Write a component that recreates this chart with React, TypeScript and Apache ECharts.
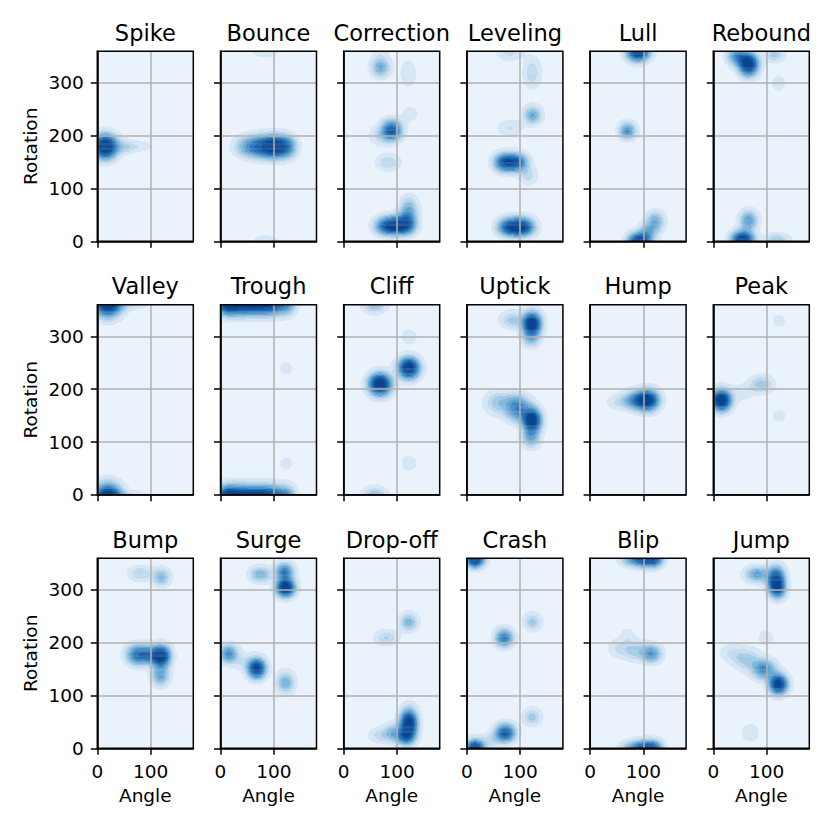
import React, { useEffect, useRef } from "react";
import * as echarts from "echarts";

// ---------- data ----------
const TITLES = [
  "Spike", "Bounce", "Correction", "Leveling", "Lull", "Rebound",
  "Valley", "Trough", "Cliff", "Uptick", "Hump", "Peak",
  "Bump", "Surge", "Drop-off", "Crash", "Blip", "Jump",
];
const X_TICKS = [0, 100];
const Y_TICKS = [0, 100, 200, 300];
const X_RANGE = [0, 180];
const Y_RANGE = [0, 360];
const X_NAME = "Angle";
const Y_NAME = "Rotation";

// density level thresholds (fraction of panel maximum) and Blues fill colours
const LEVELS = [0.04, 0.1, 0.16, 0.23, 0.31, 0.4, 0.5, 0.62, 0.76];
const COLORS = [
  "#eaf2fb", "#d6e6f4", "#c1d9ee", "#a3cae4", "#80b7db",
  "#5fa3d1", "#4089c4", "#2670b4", "#1259a2", "#084590",
];
const BW_ADJUST = 1.25;

// density clusters per panel: [angle, rotation, weight, spreadAngle, spreadRotation]
const spike = [[15, 180, 1, 11.5, 12], [50, 180, 0.15, 12, 7], [80, 180, 0.07, 15, 6]];
const bounce = [[100, 180, 1, 13, 11], [70, 180, 0.55, 13, 11], [125, 180, 0.45, 10, 11], [45, 180, 0.25, 12, 10], [85, 362, 0.08, 18, 10], [85, -2, 0.08, 18, 10]];
const correction = [[69, 330, 0.45, 9.5, 9.5], [69, 360, 0.1, 9, 8], [121, 318, 0.1, 10, 18], [90, 211, 0.95, 10, 10], [125, 242, 0.09, 10, 10], [68, 200, 0.15, 12, 10], [83, 150, 0.22, 12, 8.5], [80, 30, 0.75, 12, 9], [100, 30, 0.8, 12, 9], [118, 34, 0.75, 10, 10], [122, 62, 0.42, 9, 12]];
const leveling = [[80, 362, 0.16, 13, 10], [122, 320, 0.17, 9, 16], [123, 240, 0.38, 9, 9], [80, 215, 0.12, 13, 9], [72, 150, 0.85, 11, 9], [96, 150, 0.6, 10, 9], [115, 125, 0.15, 9, 10], [80, 28, 0.75, 12, 9], [104, 28, 0.85, 12, 9]];
const lull = [[90, 362, 1, 11, 10], [70, 210, 0.42, 8.5, 8.5], [92, -2, 1, 11, 9], [122, 38, 0.32, 9, 10], [108, 18, 0.25, 9, 9]];
const rebound = [[66, 336, 1, 9.5, 11], [45, 352, 0.45, 10, 9], [115, 355, 0.2, 10, 8], [122, 300, 0.1, 7, 8], [55, 2, 1, 11, 9], [66, 40, 0.4, 9, 10], [120, 0, 0.25, 12, 8]];
const valley = [[20, 365, 1, 13, 13.5], [65, 362, 0.1, 18, 6], [20, -5, 1, 13, 13.5], [65, -2, 0.1, 18, 6]];
const trough = [[15, 362, 1, 11, 11], [45, 362, 0.85, 12, 11], [75, 362, 0.75, 12, 11], [100, 362, 0.6, 11, 11], [125, 362, 0.4, 9, 11], [123, 240, 0.07, 9, 9], [123, 60, 0.07, 9, 9], [15, -2, 1, 11, 11], [45, -2, 0.85, 12, 11], [75, -2, 0.75, 12, 11], [100, -2, 0.6, 11, 11], [125, -2, 0.4, 9, 11]];
const cliff = [[58, 363, 0.25, 12, 9.5], [58, -3, 0.25, 12, 9.5], [68, 210, 1, 11, 11], [122, 241, 0.95, 10.5, 10.5], [122, 300, 0.08, 9, 9], [122, 60, 0.08, 9, 9]];
const uptick = [[122, 326, 1, 9, 11], [120, 300, 0.3, 9, 10], [85, 332, 0.2, 12, 9], [122, 142, 1, 9, 12], [95, 165, 0.5, 12, 13], [60, 175, 0.22, 14, 12], [120, 108, 0.3, 9, 10]];
const hump = [[108, 180, 1, 11, 10.5], [85, 180, 0.45, 12, 9.5], [55, 176, 0.12, 14, 8]];
const peak = [[15, 180, 1, 9.5, 10.5], [90, 210, 0.2, 12, 9], [55, 195, 0.08, 12, 9], [123, 330, 0.065, 8.5, 8.5], [123, 150, 0.065, 8.5, 8.5]];
const bump = [[120, 325, 0.3, 9, 9], [80, 332, 0.18, 12, 8], [75, 178, 0.6, 11, 10], [120, 176, 1, 9, 10], [118, 140, 0.4, 9, 11], [98, 178, 0.45, 10, 9]];
const surge = [[122, 305, 1, 9, 9], [120, 335, 0.5, 9, 9], [75, 330, 0.3, 11, 8], [15, 180, 0.45, 9, 9], [68, 152, 0.85, 9, 10], [122, 125, 0.3, 9, 11], [40, 165, 0.08, 12, 10]];
const dropoff = [[122, 240, 0.3, 9, 9], [80, 210, 0.18, 12, 8], [122, 48, 1, 8.5, 14], [116, 24, 0.55, 9, 9], [92, 30, 0.3, 10, 9], [65, 25, 0.12, 11, 8]];
const crash = [[15, 362, 0.9, 9, 9], [15, -2, 0.9, 9, 9], [70, 210, 0.45, 9, 9], [123, 240, 0.17, 9, 9], [72, 30, 0.6, 10, 9], [122, 60, 0.17, 9, 9], [45, 15, 0.1, 10, 8]];
const blip = [[98, 364, 1, 12, 9], [120, 362, 0.7, 9, 9], [70, 360, 0.2, 10, 8], [115, 180, 0.45, 10, 9], [85, 185, 0.2, 12, 10], [55, 190, 0.12, 12, 10], [70, 215, 0.08, 8, 8], [98, -4, 1, 12, 9], [120, -2, 0.6, 9, 9], [70, -2, 0.2, 10, 8]];
const jump = [[118, 318, 1, 8.5, 13], [82, 330, 0.4, 12, 8], [121, 300, 0.35, 8, 9], [122, 122, 1, 9, 10], [95, 150, 0.5, 12, 10], [62, 170, 0.22, 14, 11], [98, 210, 0.1, 8, 8], [32, 182, 0.1, 12, 9], [69, 30, 0.1, 10, 10]];

const PANELS = [
  spike, bounce, correction, leveling, lull, rebound,
  valley, trough, cliff, uptick, hump, peak,
  bump, surge, dropoff, crash, blip, jump,
];

// ---------- layout ----------
const COL_LEFT = [97.3, 220.5, 343.7, 466.9, 590.1, 713.3];
const ROW_TOP = [51.3, 304.8, 558.3];
const PW = 96;
const PH = 190;
const FONT = "DejaVu Sans";

// density evaluated on a fine grid, merged into horizontal runs of equal level
function densityRuns(blobs: number[][]) {
  const dx = 1.5;
  const dy = 2;
  const nx = Math.round((X_RANGE[1] - X_RANGE[0]) / dx);
  const ny = Math.round((Y_RANGE[1] - Y_RANGE[0]) / dy);
  const dens = new Float64Array(nx * ny);
  let max = 0;
  for (let j = 0; j < ny; j++) {
    const y = Y_RANGE[0] + (j + 0.5) * dy;
    for (let i = 0; i < nx; i++) {
      const x = X_RANGE[0] + (i + 0.5) * dx;
      let s = 0;
      for (const b of blobs) {
        const ux = (x - b[0]) / (b[3] * BW_ADJUST);
        const uy = (y - b[1]) / (b[4] * BW_ADJUST);
        s += b[2] * Math.exp(-0.5 * (ux * ux + uy * uy));
      }
      dens[j * nx + i] = s;
      if (s > max) max = s;
    }
  }
  const lvl = (v: number) => {
    const f = v / max;
    let k = 0;
    while (k < LEVELS.length && f >= LEVELS[k]) k++;
    return k;
  };
  const runs: number[][] = [];
  for (let j = 0; j < ny; j++) {
    let start = 0;
    let cur = lvl(dens[j * nx]);
    for (let i = 1; i <= nx; i++) {
      const l = i < nx ? lvl(dens[j * nx + i]) : -1;
      if (l !== cur) {
        if (cur > 0) {
          runs.push([
            X_RANGE[0] + start * dx,
            X_RANGE[0] + i * dx,
            Y_RANGE[0] + j * dy,
            Y_RANGE[0] + (j + 1) * dy,
            cur,
          ]);
        }
        start = i;
        cur = l;
      }
    }
  }
  return runs;
}

function buildOption() {
  const grids: any[] = [];
  const xAxes: any[] = [];
  const yAxes: any[] = [];
  const series: any[] = [];
  const graphics: any[] = [];
  const tickFmt = (v: number) => (v % 100 === 0 ? String(v) : "");

  PANELS.forEach((blobs, k) => {
    const row = Math.floor(k / 6);
    const col = k % 6;
    const left = COL_LEFT[col];
    const top = ROW_TOP[row];
    grids.push({
      left, top, width: PW, height: PH,
      show: true, backgroundColor: COLORS[0], borderWidth: 0,
      containLabel: false,
    });
    xAxes.push({
      type: "value", gridIndex: k, min: X_RANGE[0], max: X_RANGE[1], interval: 100, z: 5,
      axisLine: { show: true, onZero: false, lineStyle: { color: "#000", width: 1.5 } },
      axisTick: { show: true, length: 6.5, lineStyle: { color: "#000", width: 1.5 }, customValues: X_TICKS },
      axisLabel: {
        show: row === 2, formatter: tickFmt, margin: 13.5, fontSize: 18.5,
        color: "#000", fontFamily: FONT, customValues: X_TICKS,
      },
      splitLine: { show: true, lineStyle: { color: "#b0b0b0", width: 1.5 } },
      name: row === 2 ? X_NAME : "",
      nameLocation: "middle", nameGap: 38,
      nameTextStyle: { fontSize: 18.5, color: "#000", fontFamily: FONT },
    });
    yAxes.push({
      type: "value", gridIndex: k, min: Y_RANGE[0], max: Y_RANGE[1], interval: 100, z: 5,
      axisLine: { show: true, onZero: false, lineStyle: { color: "#000", width: 1.5 } },
      axisTick: { show: true, length: 6.5, lineStyle: { color: "#000", width: 1.5 }, customValues: Y_TICKS },
      axisLabel: {
        show: col === 0, formatter: tickFmt, margin: 13.5, fontSize: 18.5,
        color: "#000", fontFamily: FONT, customValues: Y_TICKS,
      },
      splitLine: { show: true, lineStyle: { color: "#b0b0b0", width: 1.5 } },
    });
    series.push({
      type: "custom",
      coordinateSystem: "cartesian2d",
      xAxisIndex: k,
      yAxisIndex: k,
      clip: true,
      silent: true,
      z: 1,
      encode: { x: [0, 1], y: [2, 3] },
      data: densityRuns(blobs),
      renderItem: (params: any, api: any) => {
        const a = api.coord([api.value(0), api.value(3)]);
        const b = api.coord([api.value(1), api.value(2)]);
        return {
          type: "rect",
          shape: { x: a[0], y: a[1], width: b[0] - a[0] + 0.4, height: b[1] - a[1] + 0.4 },
          style: { fill: COLORS[api.value(4)] },
        };
      },
    });
    graphics.push({
      type: "rect", z: 100, silent: true,
      shape: { x: left, y: top, width: PW, height: PH },
      style: { fill: "none", stroke: "#000", lineWidth: 1.5 },
    });
    graphics.push({
      type: "text", z: 100, silent: true,
      x: left + PW / 2, y: top - 18.8,
      style: {
        text: TITLES[k], fill: "#000", font: `22.5px '${FONT}'`,
        align: "center", verticalAlign: "middle",
        textAlign: "center", textVerticalAlign: "middle",
      },
    });
    if (col === 0) {
      graphics.push({
        type: "text", z: 100, silent: true,
        x: 30, y: top + PH / 2, rotation: Math.PI / 2,
        style: {
          text: Y_NAME, fill: "#000", font: `18.5px '${FONT}'`,
          align: "center", verticalAlign: "middle",
          textAlign: "center", textVerticalAlign: "middle",
        },
      });
    }
  });

  return {
    animation: false,
    backgroundColor: "#ffffff",
    textStyle: { fontFamily: FONT },
    grid: grids,
    xAxis: xAxes,
    yAxis: yAxes,
    series,
    graphic: { elements: graphics },
  };
}

export default function App() {
  const ref = useRef<HTMLDivElement>(null);
  useEffect(() => {
    if (!ref.current) return;
    const chart = echarts.init(ref.current, undefined, { renderer: "svg" });
    chart.setOption(buildOption() as any);
    return () => chart.dispose();
  }, []);
  return (
    <div
      ref={ref}
      style={{ position: "fixed", left: 0, top: 0, width: 830, height: 830, background: "#fff" }}
    />
  );
}
